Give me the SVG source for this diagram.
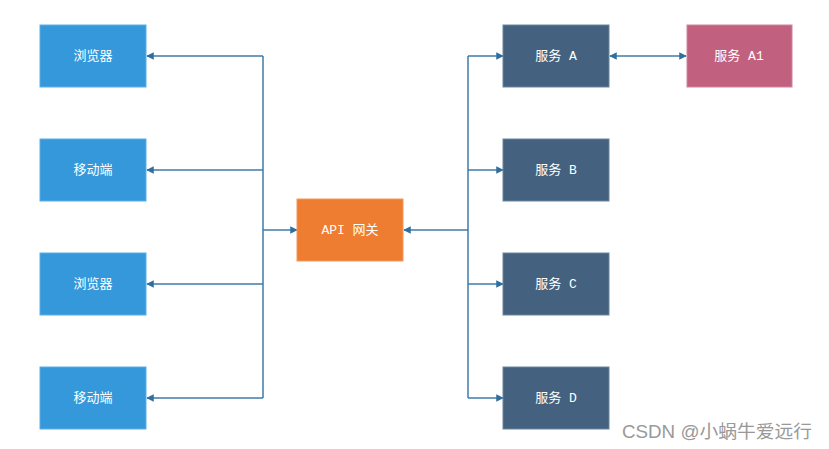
<svg xmlns="http://www.w3.org/2000/svg" width="829" height="449" viewBox="0 0 829 449">
<style>
.client{fill:#3498db;stroke:#5aaee6;stroke-width:1}
.svc{fill:#44627f;stroke:#6a86a0;stroke-width:1}
.gw{fill:#ee7d31;stroke:#f29a5e;stroke-width:1}
.sub{fill:#c1607f;stroke:#d0849c;stroke-width:1}
.lbl{fill:#ffffff;font-family:"Liberation Mono","Noto Sans CJK SC",monospace;font-size:13px;text-anchor:middle;dominant-baseline:central}
.conn{fill:none;stroke:#3d7ba8;stroke-width:1.5}
.wm{fill:#999999;font-family:"Liberation Sans","Noto Sans CJK SC",sans-serif;font-size:18px}
</style>
<defs>
<marker id="arr" viewBox="0 0 10 10" refX="9" refY="5" markerWidth="5" markerHeight="5" orient="auto-start-reverse" markerUnits="strokeWidth">
<path d="M0,0 L10,5 L0,10 z" fill="#2f6f9f"/>
</marker>
</defs>
<rect width="829" height="449" fill="#ffffff"/>
<g id="connectors">
<path class="conn" d="M263,56 V398"/>
<path class="conn" d="M263,56 H147" marker-end="url(#arr)"/>
<path class="conn" d="M263,170 H147" marker-end="url(#arr)"/>
<path class="conn" d="M263,284 H147" marker-end="url(#arr)"/>
<path class="conn" d="M263,398 H147" marker-end="url(#arr)"/>
<path class="conn" d="M263,230 H297" marker-end="url(#arr)"/>
<path class="conn" d="M468,56 V398"/>
<path class="conn" d="M468,230 H404" marker-end="url(#arr)"/>
<path class="conn" d="M468,56 H503" marker-end="url(#arr)"/>
<path class="conn" d="M468,170 H503" marker-end="url(#arr)"/>
<path class="conn" d="M468,284 H503" marker-end="url(#arr)"/>
<path class="conn" d="M468,398 H503" marker-end="url(#arr)"/>
<path class="conn" d="M610,56 H686" marker-start="url(#arr)" marker-end="url(#arr)"/>
</g>
<g id="browser1"><rect class="client" x="40" y="25" width="106" height="62"/><text class="lbl" x="93" y="56">浏览器</text></g>
<g id="mobile1"><rect class="client" x="40" y="139" width="106" height="62"/><text class="lbl" x="93" y="170">移动端</text></g>
<g id="browser2"><rect class="client" x="40" y="253" width="106" height="62"/><text class="lbl" x="93" y="284">浏览器</text></g>
<g id="mobile2"><rect class="client" x="40" y="367" width="106" height="62"/><text class="lbl" x="93" y="398">移动端</text></g>
<g id="gateway"><rect class="gw" x="297" y="199" width="106" height="62"/><text class="lbl" x="350" y="230">API 网关</text></g>
<g id="serviceA"><rect class="svc" x="503" y="25" width="106" height="62"/><text class="lbl" x="556" y="56">服务 A</text></g>
<g id="serviceB"><rect class="svc" x="503" y="139" width="106" height="62"/><text class="lbl" x="556" y="170">服务 B</text></g>
<g id="serviceC"><rect class="svc" x="503" y="253" width="106" height="62"/><text class="lbl" x="556" y="284">服务 C</text></g>
<g id="serviceD"><rect class="svc" x="503" y="367" width="106" height="62"/><text class="lbl" x="556" y="398">服务 D</text></g>
<g id="serviceA1"><rect class="sub" x="687" y="25" width="105" height="62"/><text class="lbl" x="739" y="56">服务 A1</text></g>
<text class="wm" x="622" y="438" textLength="190" lengthAdjust="spacingAndGlyphs">CSDN @小蜗牛爱远行</text>
</svg>
